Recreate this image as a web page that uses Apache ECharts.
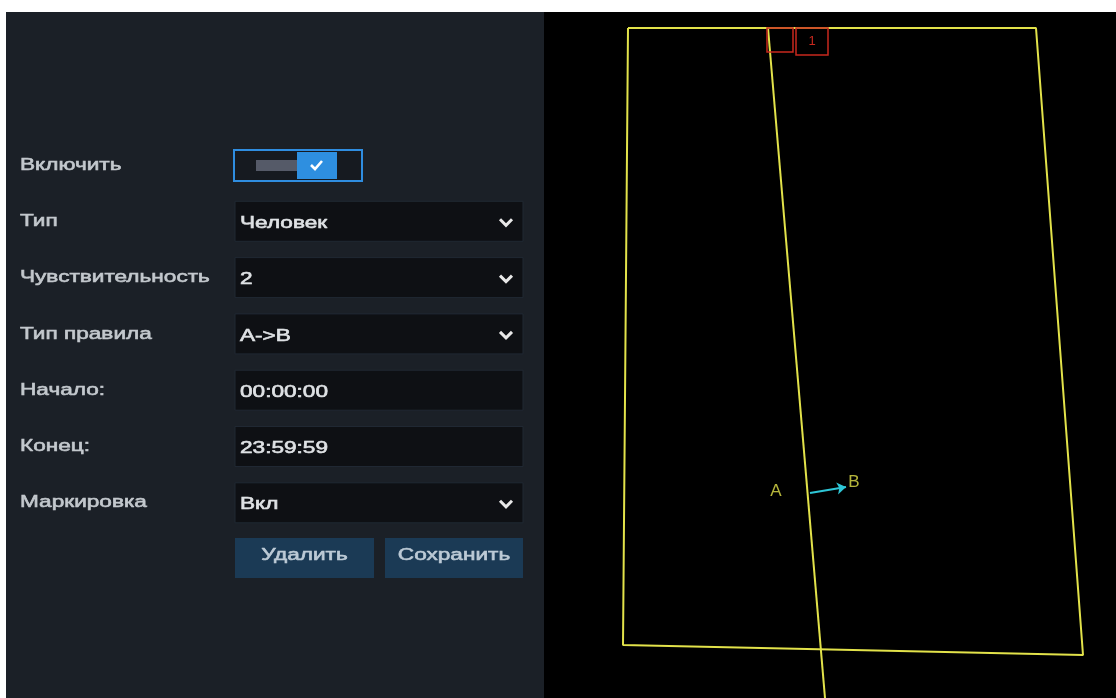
<!DOCTYPE html>
<html>
<head>
<meta charset="utf-8">
<script src="https://cdn.jsdelivr.net/npm/echarts@6/dist/echarts.min.js"></script>
<style>
  html, body { margin: 0; padding: 0; background: #fff; }
  #main { width: 1116px; height: 698px; }
</style>
</head>
<body>
<div id="main"></div>
<script>
  // form rows
  const fieldLabels = ['Включить', 'Тип', 'Чувствительность', 'Тип правила', 'Начало:', 'Конец:', 'Маркировка'];
  const fieldValues = [null, 'Человек', '2', 'A->B', '00:00:00', '23:59:59', 'Вкл'];
  const hasDropdown = [false, true, true, true, false, false, true];
  const buttonLabels = ['Удалить', 'Сохранить'];

  // zone drawing on the video area (image pixels)
  const zoneX = [628, 1036, 1083, 623, 628];
  const zoneY = [28, 28, 655, 645, 28];
  const crossLineX = [768, 825];
  const crossLineY = [28, 698];
  const markBoxes = [[767, 28, 793, 52, ''], [796, 28, 828, 55, '1']];
  const dirFrom = [810, 493];
  const dirTo = [846, 487];
  const dirLabels = [['A', 776, 491], ['B', 854, 482]];

  const chart = echarts.init(document.getElementById('main'));

  const LABEL = '#c3c8cd';
  const VALUE = '#dfe2e5';
  const FONT = '"Liberation Sans", Arial, sans-serif';
  const SX = 1.33; // the screenshot text is stretched sideways

  // semi-bold look: normal weight plus a thin outline in the same colour
  function txt(x, y, text, fill, align) {
    return {
      type: 'text', x: x, y: y, scaleX: SX,
      style: { text: text, fill: fill, stroke: fill, lineWidth: 0.6, font: '17px ' + FONT,
        textAlign: align || 'left', textVerticalAlign: 'middle' }
    };
  }

  const graphics = [];
  // background panels
  graphics.push({ type: 'rect', z: -10, shape: { x: 6, y: 12, width: 540, height: 686 }, style: { fill: '#1b2027' } });
  graphics.push({ type: 'rect', z: -10, shape: { x: 544, y: 12, width: 572, height: 686 }, style: { fill: '#000' } });

  fieldLabels.forEach((lab, i) => {
    const cy = 165 + i * 56.3;
    graphics.push(txt(20, cy, lab, LABEL));
    if (i === 0) {
      // toggle
      graphics.push({ type: 'rect', shape: { x: 234, y: 150, width: 128, height: 31 },
        style: { fill: '#161a20', stroke: '#2f8de0', lineWidth: 2 } });
      graphics.push({ type: 'rect', shape: { x: 256, y: 160, width: 41, height: 11 }, style: { fill: '#555a68' } });
      graphics.push({ type: 'rect', shape: { x: 297, y: 152, width: 40, height: 27 }, style: { fill: '#2e8fe0' } });
      graphics.push({ type: 'polyline', shape: { points: [[311, 165], [315, 169], [322, 161]] },
        style: { stroke: '#fff', lineWidth: 2.6, fill: null } });
      return;
    }
    const top = cy - 20;
    graphics.push({ type: 'rect', shape: { x: 235, y: top, width: 288, height: 40 },
      style: { fill: '#0e1014', stroke: '#202833', lineWidth: 1 } });
    graphics.push(txt(240, cy + 2, fieldValues[i], VALUE));
    if (hasDropdown[i]) {
      graphics.push({ type: 'polyline', shape: { points: [[500, cy - 2], [506, cy + 4], [512, cy - 2]] },
        style: { stroke: '#e8e8e8', lineWidth: 3, fill: null } });
    }
  });

  buttonLabels.forEach((b, i) => {
    const x = i === 0 ? 235 : 385;
    const w = i === 0 ? 139 : 138;
    graphics.push({ type: 'rect', shape: { x: x, y: 538, width: w, height: 40 }, style: { fill: '#1b3a55' } });
    graphics.push(txt(x + w / 2, 555, b, '#bccad6', 'center'));
  });

  const option = {
    animation: false,
    backgroundColor: '#fff',
    grid: { left: 0, top: 0, width: 1116, height: 698 },
    xAxis: { type: 'value', min: 0, max: 1116, show: false },
    yAxis: { type: 'value', min: 0, max: 698, inverse: true, show: false },
    graphic: graphics,
    series: [
      {
        type: 'line', symbol: 'none', z: 3,
        data: zoneX.map((x, i) => [x, zoneY[i]]),
        lineStyle: { color: '#e2e24a', width: 2 }
      },
      {
        type: 'line', symbol: 'none', z: 3,
        data: crossLineX.map((x, i) => [x, crossLineY[i]]),
        lineStyle: { color: '#e2e24a', width: 2 }
      },
      {
        type: 'lines', coordinateSystem: 'cartesian2d', z: 4,
        symbol: ['none', 'arrow'], symbolSize: 9,
        lineStyle: { color: '#2ec6d6', width: 2, opacity: 1 },
        data: [{ coords: [dirFrom, dirTo] }]
      },
      {
        type: 'scatter', symbolSize: 0, z: 5,
        data: dirLabels.map(d => ({ value: [d[1], d[2]], name: d[0] })),
        label: { show: true, formatter: '{b}', color: '#e2e24a', fontSize: 17, fontFamily: 'Liberation Sans', position: 'inside' }
      },
      {
        type: 'custom', z: 6,
        data: markBoxes,
        renderItem: function (params, api) {
          const p0 = api.coord([api.value(0), api.value(1)]);
          const p1 = api.coord([api.value(2), api.value(3)]);
          const d = markBoxes[params.dataIndex];
          return {
            type: 'group',
            children: [
              { type: 'rect', shape: { x: p0[0], y: p0[1], width: p1[0] - p0[0], height: p1[1] - p0[1] },
                style: { fill: null, stroke: '#c8281e', lineWidth: 1.5 } },
              { type: 'text', x: (p0[0] + p1[0]) / 2, y: (p0[1] + p1[1]) / 2,
                style: { text: d[4], fill: '#c8281e', font: '13px ' + FONT, textAlign: 'center', textVerticalAlign: 'middle' } }
            ]
          };
        }
      }
    ]
  };

  chart.setOption(option);
</script>
</body>
</html>
